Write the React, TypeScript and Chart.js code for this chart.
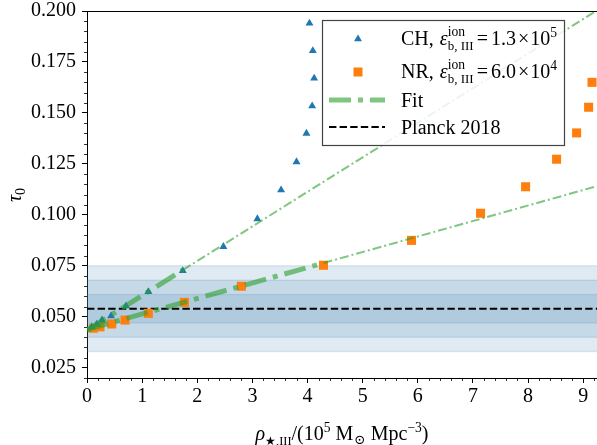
import React, { useEffect, useRef } from 'react';
import { Chart, registerables } from 'chart.js';

Chart.register(...registerables);

// ---- data ----
const chX = [0.085, 0.176, 0.272, 0.436, 0.708, 1.112, 1.737, 2.474, 3.09, 3.52, 3.80, 3.98, 4.084, 4.12, 4.096, 4.035];
const chY = [0.0450, 0.0463, 0.0484, 0.0504, 0.0553, 0.0623, 0.0726, 0.0844, 0.0980, 0.1122, 0.1260, 0.1400, 0.1534, 0.1670, 0.1805, 0.1940];

const nrX = [0.114, 0.236, 0.448, 0.690, 1.112, 1.766, 2.80, 4.289, 5.886, 7.138, 7.955, 8.517, 8.880, 9.098, 9.16];
const nrY = [0.0444, 0.0451, 0.0465, 0.0484, 0.0517, 0.0571, 0.0650, 0.0753, 0.0875, 0.1008, 0.1138, 0.1273, 0.1402, 0.1528, 0.1650];

// fit lines: [start, end of fitted range, end of plot]
const chFitX = [0, 1.74, 9.25];
const chFitY = [0.0435, 0.0730, 0.2003];
const nrFitX = [0, 4.29, 9.25];
const nrFitY = [0.0438, 0.0764, 0.1141];

const planckTau = 0.054;
const planckSigma = 0.007;
const bandSigmas = [3, 2, 1];
const planckX = [0, 9.25];

const xRange = [0, 9.25];
const yRange = [0.02, 0.2];
const xTickValues = [0, 1, 2, 3, 4, 5, 6, 7, 8, 9];
const yTickValues = [0.025, 0.05, 0.075, 0.1, 0.125, 0.15, 0.175, 0.2];
const xMinorStep = 0.2;
const yMinorStep = 0.005;

// ---- styles ----
const FONT = '"Liberation Serif", "DejaVu Serif", serif';
const BLUE = '#1f77b4';
const ORANGE = '#ff7f0e';
const GREEN = 'rgba(44,160,44,0.6)';
const BAND = 'rgba(70,130,180,0.17)';
const THICK_DASH = [22, 7, 5, 7];
const THIN_DASH = [9, 3, 2, 3];
const PLANCK_DASH = [7.4, 3.2];

type Seg = { t: string; s?: number; dy?: number; it?: boolean; stack?: boolean; dx?: number };

function rich(ctx: CanvasRenderingContext2D, segs: Seg[], x: number, y: number, base: number, draw: boolean): number {
  let cx = x;
  let lastStart = x;
  let lastEnd = x;
  for (const g of segs) {
    const size = base * (g.s ?? 1);
    ctx.font = `${g.it ? 'italic ' : ''}${size}px ${FONT}`;
    const w = ctx.measureText(g.t).width;
    let sx: number;
    if (g.stack) {
      sx = lastStart;
    } else {
      sx = cx + (g.dx ?? 0);
      lastStart = sx;
    }
    if (draw) ctx.fillText(g.t, sx, y + (g.dy ?? 0));
    if (g.stack) {
      cx = Math.max(lastEnd, sx + w);
      lastEnd = cx;
    } else {
      cx = sx + w;
      lastEnd = cx;
    }
  }
  return cx - x;
}

const chLabel: Seg[] = [
  { t: 'CH, ' }, { t: 'ε', it: true, dx: 1 },
  { t: 'ion', s: 0.68, dy: -9 }, { t: 'b, III', s: 0.65, dy: 5, stack: true },
  { t: '=', dx: 3 }, { t: '1.3', dx: 3 }, { t: '×', dx: 2 }, { t: '10', dx: 1 }, { t: '5', s: 0.68, dy: -8 },
];
const nrLabel: Seg[] = [
  { t: 'NR, ' }, { t: 'ε', it: true, dx: 1 },
  { t: 'ion', s: 0.68, dy: -9 }, { t: 'b, III', s: 0.65, dy: 5, stack: true },
  { t: '=', dx: 3 }, { t: '6.0', dx: 3 }, { t: '×', dx: 2 }, { t: '10', dx: 1 }, { t: '4', s: 0.68, dy: -8 },
];
const xTitle: Seg[] = [
  { t: 'ρ', it: true }, { t: '★,III', s: 0.62, dy: 5 }, { t: '/(10' }, { t: '5', s: 0.68, dy: -8 },
  { t: ' M' }, { t: '⊙', s: 0.68, dy: 4, dx: 1 }, { t: ' Mpc' }, { t: '−3', s: 0.68, dy: -8 }, { t: ')' },
];
const yTitle: Seg[] = [{ t: 'τ', it: true }, { t: '0', s: 0.7, dy: 4 }];

const pts = (xs: number[], ys: number[]) => xs.map((x, i) => ({ x, y: ys[i] }));

const decor = {
  id: 'decor',
  beforeDatasetsDraw(chart: any) {
    const { ctx, chartArea: a, scales } = chart;
    const y = scales.y;
    ctx.save();
    for (const k of bandSigmas) {
      const top = y.getPixelForValue(planckTau + k * planckSigma);
      const bot = y.getPixelForValue(planckTau - k * planckSigma);
      ctx.fillStyle = BAND;
      ctx.fillRect(a.left, top, a.right - a.left, bot - top);
      ctx.strokeStyle = BAND;
      ctx.lineWidth = 1.5;
      ctx.beginPath();
      ctx.moveTo(a.left, top); ctx.lineTo(a.right, top);
      ctx.moveTo(a.left, bot); ctx.lineTo(a.right, bot);
      ctx.stroke();
    }
    ctx.restore();
  },
  afterDraw(chart: any) {
    const { ctx, chartArea: a, scales } = chart;
    const xs = scales.x;
    const ys = scales.y;
    ctx.save();
    // minor ticks
    ctx.strokeStyle = '#000';
    ctx.lineWidth = 0.8;
    ctx.beginPath();
    for (let i = 0; ; i++) {
      const v = xRange[0] + i * xMinorStep;
      if (v > xRange[1] + 1e-9) break;
      if (Math.abs(v - Math.round(v)) < 1e-6) continue;
      const px = Math.round(xs.getPixelForValue(v)) + 0.5;
      ctx.moveTo(px, a.bottom); ctx.lineTo(px, a.bottom + 3);
    }
    for (let i = 0; ; i++) {
      const v = yRange[0] + i * yMinorStep;
      if (v > yRange[1] + 1e-9) break;
      const r = v / 0.025;
      if (Math.abs(r - Math.round(r)) < 1e-6) continue;
      const py = Math.round(ys.getPixelForValue(v)) + 0.5;
      ctx.moveTo(a.left - 3, py); ctx.lineTo(a.left, py);
    }
    ctx.stroke();
    // top frame
    ctx.lineWidth = 1;
    ctx.beginPath();
    ctx.moveTo(a.left, a.top + 0.5); ctx.lineTo(a.right, a.top + 0.5);
    ctx.stroke();

    // x title
    ctx.fillStyle = '#000';
    ctx.textBaseline = 'alphabetic';
    ctx.textAlign = 'left';
    const w = rich(ctx, xTitle, 0, 0, 20, false);
    rich(ctx, xTitle, (a.left + a.right) / 2 - w / 2, 440, 20, true);
    // y title
    ctx.save();
    ctx.translate(21, 195);
    ctx.rotate(-Math.PI / 2);
    const wy = rich(ctx, yTitle, 0, 0, 20, false);
    rich(ctx, yTitle, -wy / 2, 0, 20, true);
    ctx.restore();

    // legend
    const L = 322, T = 20, R = 564, B = 145;
    ctx.fillStyle = 'rgba(255,255,255,0.85)';
    ctx.fillRect(L, T, R - L, B - T);
    ctx.strokeStyle = '#444';
    ctx.lineWidth = 1.2;
    ctx.strokeRect(L + 0.5, T + 0.5, R - L, B - T);

    // CH marker
    const mx = 358;
    ctx.fillStyle = BLUE;
    const r = 4.6;
    let cy = 39;
    ctx.beginPath();
    ctx.moveTo(mx, cy - r);
    ctx.lineTo(mx + r * 0.866, cy + r / 2);
    ctx.lineTo(mx - r * 0.866, cy + r / 2);
    ctx.closePath();
    ctx.fill();
    // NR marker
    cy = 72;
    ctx.fillStyle = ORANGE;
    ctx.fillRect(mx - 4.5, cy - 4.5, 9, 9);
    // Fit
    ctx.strokeStyle = GREEN;
    ctx.lineWidth = 5;
    ctx.setLineDash(THICK_DASH);
    ctx.beginPath();
    ctx.moveTo(329, 100); ctx.lineTo(385, 100);
    ctx.stroke();
    // Planck
    ctx.strokeStyle = '#000';
    ctx.lineWidth = 2;
    ctx.setLineDash(PLANCK_DASH);
    ctx.beginPath();
    ctx.moveTo(329, 127); ctx.lineTo(385, 127);
    ctx.stroke();
    ctx.setLineDash([]);

    ctx.fillStyle = '#000';
    const tx = 401;
    rich(ctx, chLabel, tx, 45, 20, true);
    rich(ctx, nrLabel, tx, 78, 20, true);
    rich(ctx, [{ t: 'Fit' }], tx, 107, 20, true);
    rich(ctx, [{ t: 'Planck 2018' }], tx, 134, 20, true);
    ctx.restore();
  },
};

export default function App() {
  const ref = useRef<HTMLCanvasElement>(null);
  useEffect(() => {
    document.body.style.margin = '0';
    const canvas = ref.current!;
    const tickFont = { family: FONT, size: 20 };
    const chart = new Chart(canvas, {
      type: 'scatter',
      data: {
        datasets: [
          { label: 'CH fit', data: pts(chFitX.slice(0, 2), chFitY.slice(0, 2)), showLine: true, borderColor: GREEN, borderWidth: 5, borderDash: THICK_DASH, pointRadius: 0, order: 0 } as any,
          { label: 'CH fit ext', data: pts(chFitX.slice(1), chFitY.slice(1)), showLine: true, borderColor: GREEN, borderWidth: 2, borderDash: THIN_DASH, pointRadius: 0, order: 0 },
          { label: 'NR fit', data: pts(nrFitX.slice(0, 2), nrFitY.slice(0, 2)), showLine: true, borderColor: GREEN, borderWidth: 5, borderDash: THICK_DASH, pointRadius: 0, order: 0 },
          { label: 'NR fit ext', data: pts(nrFitX.slice(1), nrFitY.slice(1)), showLine: true, borderColor: GREEN, borderWidth: 2, borderDash: THIN_DASH, pointRadius: 0, order: 0 },
          { label: 'CH', data: pts(chX, chY), pointStyle: 'triangle', pointRadius: 4.6, backgroundColor: BLUE, borderWidth: 0, order: 1 },
          { label: 'NR', data: pts(nrX, nrY), pointStyle: 'rect', pointRadius: 6.4, backgroundColor: ORANGE, borderWidth: 0, order: 1 },
          { label: 'Planck 2018', data: pts(planckX, planckX.map(() => planckTau)), showLine: true, borderColor: '#000', borderWidth: 2, borderDash: PLANCK_DASH, pointRadius: 0, order: 2 },
        ],
      },
      options: {
        responsive: false,
        animation: false,
        layout: { autoPadding: false, padding: { top: 11, right: 0, left: 0, bottom: 0 } },
        plugins: { legend: { display: false }, tooltip: { enabled: false } },
        scales: {
          x: {
            type: 'linear', min: xRange[0], max: xRange[1],
            afterBuildTicks: (s: any) => { s.ticks = xTickValues.map((v) => ({ value: v })); },
            afterFit: (s: any) => { s.height = 67; s.paddingLeft = 0; s.paddingRight = 0; },
            ticks: { font: tickFont, color: '#000', padding: 2, maxRotation: 0, autoSkip: false, callback: (v: any) => String(v) },
            grid: { drawOnChartArea: false, drawTicks: true, tickLength: 5, color: '#000', tickWidth: 1 },
            border: { display: true, color: '#000', width: 1 },
          },
          y: {
            type: 'linear', min: yRange[0], max: yRange[1],
            afterBuildTicks: (s: any) => { s.ticks = yTickValues.map((v) => ({ value: v })); },
            afterFit: (s: any) => { s.width = 87; s.paddingTop = 0; s.paddingBottom = 0; },
            ticks: { font: tickFont, color: '#000', padding: 6, autoSkip: false, callback: (v: any) => Number(v).toFixed(3) },
            grid: { drawOnChartArea: false, drawTicks: true, tickLength: 5, color: '#000', tickWidth: 1 },
            border: { display: true, color: '#000', width: 1 },
          },
        },
      },
      plugins: [decor],
    } as any);
    return () => chart.destroy();
  }, []);
  return <canvas ref={ref} width={597} height={445} style={{ display: 'block' }} />;
}
